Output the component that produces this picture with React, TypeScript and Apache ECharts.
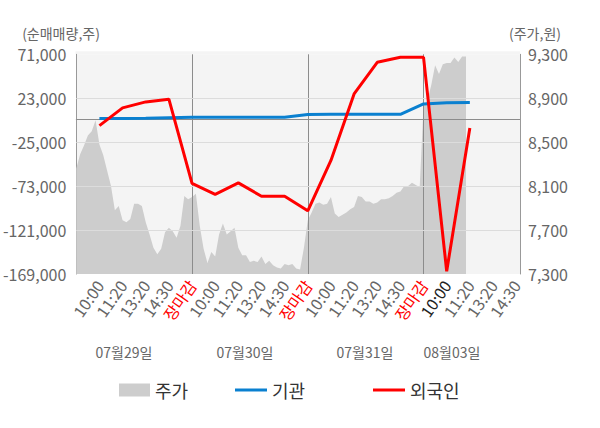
import React, { useEffect, useRef } from 'react';
import * as echarts from 'echarts';

const FONT = '"Noto Sans CJK KR", "Noto Sans", sans-serif';

// x-axis slot labels (slot 0 is the left edge, no label)
const tickLabels = [
  '', '10:00', '11:20', '13:20', '14:30', '장마감',
  '10:00', '11:20', '13:20', '14:30', '장마감',
  '10:00', '11:20', '13:20', '14:30', '장마감',
  '10:00', '11:20', '13:20', '14:30',
];
const dayLabels = ['07월29일', '07월30일', '07월31일', '08월03일'];
const SUB = 6; // sub-steps per label slot
const CAT_COUNT = 116;
const CURRENT_SLOT = 16; // highlighted (black) label

const leftTicks = [-169000, -121000, -73000, -25000, 23000, 71000];
const rightTicks = [7300, 7700, 8100, 8500, 8900, 9300];

// net purchases per slot 1..17
const instValues = [
  750, 970, 1200, 1800, 2300, 2300, 2300, 2300, 2300, 5300, 5500, 5500, 5500, 5500,
  16800, 18000, 18300,
];
const foreignValues = [
  -6900, 12500, 19000, 22000, -70000, -82000, -69500, -84000, -84000, -100000, -45000,
  27700, 62300, 67700, 67700, -166000, -9400,
];

// stock price (fine steps, SUB per slot)
const priceValues = [
  8260, 8390, 8470, 8560, 8600, 8700, 8480, 8380, 8240, 8100,
  7880, 7920, 7790, 7770, 7800, 7940, 7940, 7920, 7770, 7660,
  7540, 7480, 7530, 7680, 7720, 7690, 7630, 7740, 8010, 7980,
  8000, 8030, 7740, 7530, 7400, 7500, 7460, 7660, 7760, 7660,
  7690, 7720, 7540, 7470, 7470, 7410, 7420, 7410, 7460, 7390,
  7420, 7380, 7360, 7350, 7390, 7380, 7390, 7350, 7340, 7540,
  7790, 7860, 7940, 7950, 7930, 7940, 8000, 7850, 7820, 7840,
  7860, 7890, 7910, 8010, 8000, 7960, 7960, 7940, 7950, 7980,
  7980, 7990, 8010, 8040, 8050, 8100, 8100, 8130, 8110, 8090,
  8830, 8880, 9020, 9200, 9120, 9210, 9220, 9220, 9270, 9230,
  9280, 9280,
];

const categories = Array.from({ length: CAT_COUNT }, (_, i) => String(i));
const dayStarts = [1, 2, 3].map((d) => String(d * 5 * SUB));

const fmtNum = (v: number) => v.toLocaleString('en-US');
const LINE_ICON = 'path://M0,0L32,0L32,3L0,3Z';

export default function App() {
  const ref = useRef<HTMLDivElement>(null);
  useEffect(() => {
    if (!ref.current) return;
    const chart = echarts.init(ref.current, undefined, { renderer: 'svg' });
    const grayText = '#666';
    const legendText = { fontSize: 18, color: '#333', fontFamily: FONT };
    const option: any = {
      animation: false,
      textStyle: { fontFamily: FONT },
      grid: {
        left: 75.5, right: 80, top: 54.3, bottom: 154,
        show: true, backgroundColor: '#f4f4f4', borderWidth: 0,
      },
      legend: [
        {
          data: [{ name: '주가', icon: 'rect' }], left: 114, top: 376,
          itemWidth: 31, itemHeight: 13, textStyle: legendText,
        },
        {
          data: [{ name: '기관', icon: LINE_ICON }], left: 230, top: 376,
          itemWidth: 32, itemHeight: 3, textStyle: legendText,
        },
        {
          data: [{ name: '외국인', icon: LINE_ICON }], left: 368, top: 376,
          itemWidth: 32, itemHeight: 3, textStyle: legendText,
        },
      ],
      xAxis: {
        type: 'category',
        data: categories,
        boundaryGap: false,
        axisLine: { lineStyle: { color: '#999' } },
        axisTick: {
          show: true, length: 5, interval: (i: number) => i % (5 * SUB) === 0,
          lineStyle: { color: '#999' },
        },
        axisLabel: {
          interval: (i: number) => i % SUB === 0,
          rotate: 55,
          margin: 8,
          fontSize: 16,
          color: grayText,
          fontFamily: FONT,
          formatter: (_v: string, index: number) => {
            if (index % SUB !== 0) return '';
            const slot = index / SUB;
            const lab = tickLabels[slot];
            if (!lab) return '';
            if (lab === '장마감') return `{close|${lab}}`;
            if (slot === CURRENT_SLOT) return `{cur|${lab}}`;
            return lab;
          },
          rich: {
            close: { color: '#ff0000', fontSize: 16, fontFamily: FONT },
            cur: { color: '#222', fontSize: 16, fontFamily: FONT },
          },
        },
        splitLine: { show: false },
      },
      yAxis: [
        {
          type: 'value', position: 'left',
          min: leftTicks[0], max: leftTicks[leftTicks.length - 1],
          interval: leftTicks[1] - leftTicks[0],
          axisLine: { show: true, lineStyle: { color: '#999' } },
          axisTick: { show: false },
          axisLabel: { formatter: fmtNum, fontSize: 16, color: grayText, margin: 10, fontFamily: FONT },
          splitLine: { show: false },
        },
        {
          type: 'value', position: 'right',
          min: rightTicks[0], max: rightTicks[rightTicks.length - 1],
          interval: rightTicks[1] - rightTicks[0],
          axisLine: { show: true, lineStyle: { color: '#999' } },
          axisTick: { show: false },
          axisLabel: { formatter: fmtNum, fontSize: 16, color: grayText, margin: 8, fontFamily: FONT },
          splitLine: { show: false },
        },
      ],
      series: [
        {
          name: '주가', type: 'line', yAxisIndex: 1, z: 1,
          data: priceValues,
          symbol: 'none',
          lineStyle: { width: 0 },
          itemStyle: { color: '#cdcdcd' },
          areaStyle: { color: '#cdcdcd', opacity: 1 },
          markLine: {
            silent: true, symbol: 'none', z: 1.5,
            label: { show: false },
            lineStyle: { color: '#8c8c8c', type: 'solid', width: 1 },
            data: dayStarts.map((x) => ({ xAxis: x })),
          },
        },
        {
          name: '기관', type: 'line', yAxisIndex: 0, z: 3,
          data: instValues.map((v, k) => [(k + 1) * SUB, v]),
          symbol: 'none',
          lineStyle: { color: '#0a80d0', width: 3 },
          itemStyle: { color: '#0a80d0' },
          markLine: {
            silent: true, symbol: 'none', z: 1.5,
            label: { show: false },
            data: [
              ...leftTicks.slice(1, -1).map((v) => ({
                yAxis: v, lineStyle: { color: '#dcdcdc', type: 'solid', width: 1 },
              })),
              { yAxis: 0, lineStyle: { color: '#8c8c8c', type: 'solid', width: 1 } },
            ],
          },
        },
        {
          name: '외국인', type: 'line', yAxisIndex: 0, z: 4,
          data: foreignValues.map((v, k) => [(k + 1) * SUB, v]),
          symbol: 'none',
          lineStyle: { color: '#ff0000', width: 3 },
          itemStyle: { color: '#ff0000' },
        },
      ],
      graphic: [
        {
          type: 'rect', silent: true, z: -1,
          shape: { x: 75.5, y: 51.3, width: 444.5, height: 3 },
          style: { fill: '#f4f4f4' },
        },
        {
          type: 'text', x: 61, y: 33,
          style: { text: '(순매매량,주)', fill: grayText, fontSize: 14, fontFamily: FONT, align: 'center', verticalAlign: 'middle' },
        },
        {
          type: 'text', x: 535, y: 33,
          style: { text: '(주가,원)', fill: grayText, fontSize: 14, fontFamily: FONT, align: 'center', verticalAlign: 'middle' },
        },
        ...dayLabels.map((t, i) => ({
          type: 'text', x: [124, 245, 365, 452][i], y: 352,
          style: { text: t, fill: grayText, fontSize: 14, fontFamily: FONT, align: 'center', verticalAlign: 'middle' },
        })),
      ],
    };
    chart.setOption(option);
    return () => chart.dispose();
  }, []);
  return (
    <div
      ref={ref}
      style={{ position: 'absolute', left: 0, top: 0, width: 600, height: 428 }}
    />
  );
}
